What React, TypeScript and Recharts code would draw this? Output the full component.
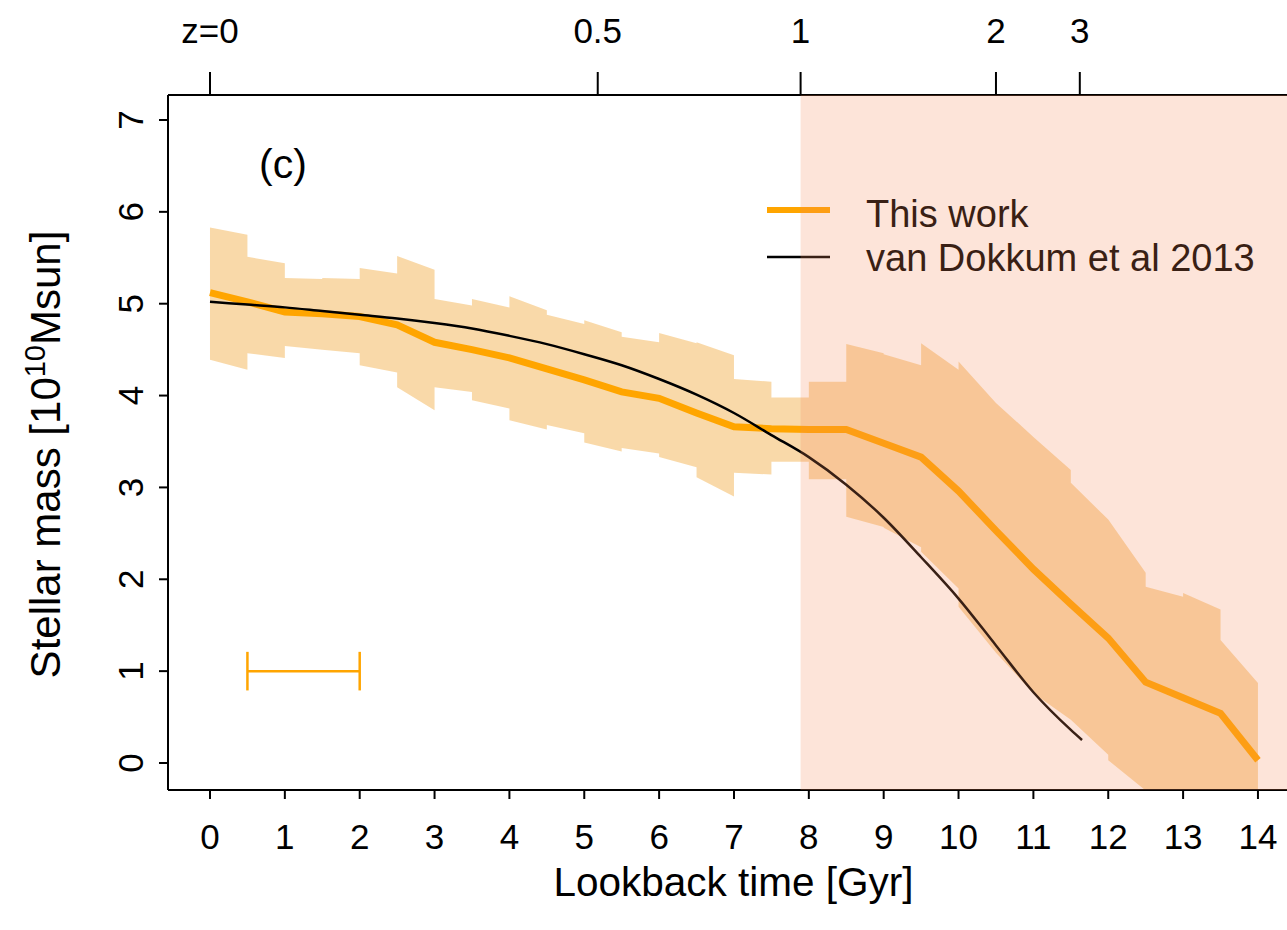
import {
  Area,
  ComposedChart,
  Customized,
  Line,
  ReferenceArea,
  ReferenceLine,
  XAxis,
  YAxis,
} from 'recharts';

// lookback time grid (Gyr) for "This work"
const times = [0, 0.5, 1, 1.5, 2, 2.5, 3, 3.5, 4, 4.5, 5, 5.5, 6, 6.5, 7, 7.5, 8, 8.5, 9, 9.5, 10, 10.5, 11, 11.5, 12, 12.5, 13, 13.5, 14];
const thisWork = [5.12, 5.02, 4.91, 4.89, 4.86, 4.77, 4.58, 4.5, 4.41, 4.29, 4.17, 4.04, 3.97, 3.81, 3.66, 3.64, 3.63, 3.63, 3.48, 3.33, 2.96, 2.53, 2.11, 1.73, 1.36, 0.88, 0.71, 0.54, 0.03];

// error band, one piece per 0.5 Gyr bin (value at bin start / bin end)
const bandHiStart = [5.83, 5.51, 5.28, 5.28, 5.39, 5.52, 5.05, 5.05, 5.08, 4.88, 4.82, 4.64, 4.68, 4.58, 4.18, 3.98, 4.15, 4.56, 4.45, 4.57, 4.37, 3.92, 3.55, 3.05, 2.65, 1.92, 1.85, 1.34];
const bandHiEnd = [5.75, 5.44, 5.27, 5.27, 5.33, 5.37, 4.98, 4.96, 4.93, 4.78, 4.69, 4.58, 4.57, 4.44, 4.15, 3.98, 4.15, 4.46, 4.33, 4.28, 3.92, 3.55, 3.19, 2.65, 2.07, 1.81, 1.67, 0.87];
const bandLoStart = [4.39, 4.46, 4.54, 4.5, 4.33, 4.09, 4.09, 3.95, 3.73, 3.68, 3.49, 3.43, 3.33, 3.11, 3.16, 3.28, 3.09, 2.68, 2.56, 2.3, 1.7, 1.2, 0.76, 0.47, 0.03, -0.35, -0.45, -0.55];
const bandLoEnd = [4.28, 4.41, 4.5, 4.46, 4.25, 3.84, 4.04, 3.86, 3.63, 3.59, 3.39, 3.37, 3.22, 2.9, 3.14, 3.28, 3.09, 2.57, 2.35, 1.9, 1.2, 0.76, 0.47, 0.09, -0.3, -0.6, -0.7, -0.8];

// van Dokkum et al 2013
const vdTimes = [0, 0.5, 1, 1.5, 2, 2.5, 3, 3.5, 4, 4.5, 5, 5.5, 6, 6.5, 7, 7.5, 8, 8.5, 9, 9.5, 10, 10.5, 11, 11.5, 11.65];
const vdMass = [5.02, 4.99, 4.96, 4.92, 4.88, 4.84, 4.79, 4.73, 4.65, 4.56, 4.45, 4.33, 4.18, 4.01, 3.81, 3.57, 3.33, 3.03, 2.67, 2.24, 1.79, 1.28, 0.77, 0.36, 0.25];

// axes
const timeTicks = [0, 1, 2, 3, 4, 5, 6, 7, 8, 9, 10, 11, 12, 13, 14];
const massTicks = [0, 1, 2, 3, 4, 5, 6, 7];
const zTickTimes = [0, 5.18, 7.89, 10.5, 11.62];
const zTickLabels = ['z=0', '0.5', '1', '2', '3'];

const X_DOMAIN: [number, number] = [-0.561, 14.388];
const Y_DOMAIN: [number, number] = [-0.294, 7.272];
const ORANGE = '#FFA500';
const FONT = '"Liberation Sans", Arial, Helvetica, sans-serif';

const lineRows = times.map((t, i) => ({ t, m: thisWork[i] }));
const vdRows = vdTimes.map((t, i) => ({ t, m: vdMass[i] }));
const bandRows = bandHiStart.flatMap((_, i) => [
  { t: times[i], lo: bandLoStart[i], hi: bandHiStart[i] },
  { t: times[i + 1], lo: bandLoEnd[i], hi: bandHiEnd[i] },
]);

const axisStyle = { stroke: '#000', strokeWidth: 2 };

function YTick({ x, y, payload }: any) {
  return (
    <text x={x} y={y} transform={`rotate(-90 ${x} ${y})`} textAnchor="middle" fontSize={35} fill="#000">
      {payload.value}
    </text>
  );
}

function XTitle({ viewBox }: any) {
  return (
    <text x={viewBox.x + viewBox.width / 2 + 6} y={viewBox.y + 106} textAnchor="middle" fontSize={40.5} fill="#000">
      Lookback time [Gyr]
    </text>
  );
}

function YTitle({ viewBox }: any) {
  const x = 60;
  const y = viewBox.y + viewBox.height / 2 + 12;
  return (
    <text x={x} y={y} transform={`rotate(-90 ${x} ${y})`} textAnchor="middle" fontSize={42} fill="#000">
      Stellar mass [10
      <tspan fontSize={29} dy={-15}>10</tspan>
      <tspan dy={15}>Msun]</tspan>
    </text>
  );
}

function Annotations() {
  return (
    <g fontFamily={FONT}>
      <text x={259} y={178} fontSize={41} fill="#000">(c)</text>
      <line x1={767} x2={830} y1={210} y2={210} stroke={ORANGE} strokeWidth={6} />
      <text x={866} y={227} fontSize={38} fill="#000">This work</text>
      <line x1={767} x2={830} y1={257} y2={257} stroke="#000" strokeWidth={2.5} />
      <text x={866} y={271} fontSize={38} fill="#000">van Dokkum et al 2013</text>
    </g>
  );
}

export default function App() {
  return (
    <div style={{ position: 'absolute', left: 0, top: 0, width: 1287, height: 930, background: '#fff', fontFamily: FONT }}>
      <ComposedChart width={1287} height={930} margin={{ top: 0, right: 0, bottom: 0, left: 0 }}>
        <XAxis
          xAxisId="bottom"
          dataKey="t"
          type="number"
          domain={X_DOMAIN}
          allowDataOverflow
          ticks={timeTicks}
          interval={0}
          height={140}
          tickSize={9}
          tickMargin={25}
          axisLine={axisStyle}
          tickLine={axisStyle}
          tick={{ fontSize: 35, fill: '#000' }}
          label={XTitle}
        />
        <XAxis
          xAxisId="top"
          dataKey="t"
          orientation="top"
          type="number"
          domain={X_DOMAIN}
          allowDataOverflow
          ticks={zTickTimes}
          interval={0}
          height={95}
          tickSize={23}
          tickMargin={29}
          axisLine={axisStyle}
          tickLine={axisStyle}
          tick={{ fontSize: 35, fill: '#000' }}
          tickFormatter={(v: number) => zTickLabels[zTickTimes.indexOf(v)]}
        />
        <YAxis
          type="number"
          domain={Y_DOMAIN}
          allowDataOverflow
          ticks={massTicks}
          interval={0}
          width={168}
          tickSize={9}
          tickMargin={16}
          axisLine={axisStyle}
          tickLine={axisStyle}
          tick={<YTick />}
          label={YTitle}
        />
        <Area
          xAxisId="bottom"
          data={bandRows}
          dataKey={(d: any) => [d.lo, d.hi]}
          type="linear"
          stroke="none"
          fill="#f0a028"
          fillOpacity={0.4}
          dot={false}
          activeDot={false}
          isAnimationActive={false}
        />
        {/* invisible series so the redshift axis gets a scale */}
        <Line
          xAxisId="top"
          data={lineRows}
          dataKey="m"
          stroke="none"
          dot={false}
          activeDot={false}
          isAnimationActive={false}
        />
        <Line
          xAxisId="bottom"
          data={lineRows}
          dataKey="m"
          type="linear"
          stroke={ORANGE}
          strokeWidth={7}
          dot={false}
          activeDot={false}
          isAnimationActive={false}
        />
        <Line
          xAxisId="bottom"
          data={vdRows}
          dataKey="m"
          type="monotone"
          stroke="#000"
          strokeWidth={2.5}
          dot={false}
          activeDot={false}
          isAnimationActive={false}
        />
        <ReferenceLine xAxisId="bottom" segment={[{ x: 0.5, y: 1 }, { x: 2, y: 1 }]} stroke={ORANGE} strokeWidth={2.5} />
        <ReferenceLine xAxisId="bottom" segment={[{ x: 0.5, y: 0.79 }, { x: 0.5, y: 1.21 }]} stroke={ORANGE} strokeWidth={2.5} />
        <ReferenceLine xAxisId="bottom" segment={[{ x: 2, y: 0.79 }, { x: 2, y: 1.21 }]} stroke={ORANGE} strokeWidth={2.5} />
        <Customized component={<Annotations />} />
        <ReferenceArea
          xAxisId="bottom"
          x1={zTickTimes[2]}
          x2={X_DOMAIN[1]}
          fill="#F88A5C"
          fillOpacity={0.23}
          stroke="none"
          zIndex={1500}
        />
      </ComposedChart>
    </div>
  );
}
